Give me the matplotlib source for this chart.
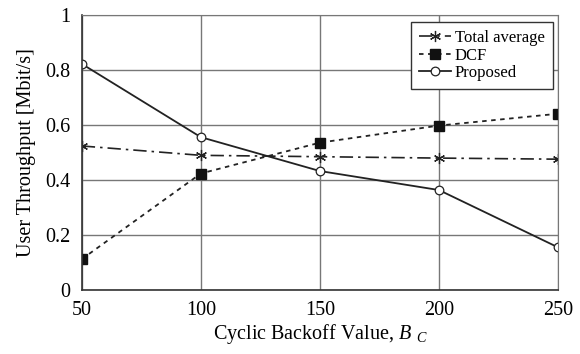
import numpy as np
import matplotlib
matplotlib.use("Agg")
import matplotlib.pyplot as plt

plt.rcParams['font.family'] = ['Liberation Serif', 'DejaVu Serif']
plt.rcParams['mathtext.fontset'] = 'custom'
plt.rcParams['mathtext.it'] = 'Liberation Serif:italic'
plt.rcParams['mathtext.rm'] = 'Liberation Serif'

# data
backoff = [50, 100, 150, 200, 250]
total_average = [0.524, 0.490, 0.485, 0.480, 0.476]
dcf = [0.113, 0.424, 0.536, 0.598, 0.641]
proposed = [0.822, 0.556, 0.433, 0.364, 0.156]

fig, ax = plt.subplots(figsize=(5.8, 3.54), dpi=100)
fig.subplots_adjust(left=0.141, right=0.962, top=0.958, bottom=0.18)

ax.plot(backoff, total_average, color='#222222', lw=1.2, ls=(0, (8, 3, 1.5, 3)),
        marker=(6, 2, 0), ms=8, mew=0.9, label='Total average')
ax.plot(backoff, dcf, color='#222222', lw=1.3, ls=(0, (2.5, 2.5)),
        marker='s', ms=6.5, mfc='#111111', mec='#111111', label='DCF')
ax.plot(backoff, proposed, color='#222222', lw=1.3, ls='-',
        marker='o', ms=6.2, mfc='white', mec='#222222', mew=0.9, label='Proposed')

ax.set_xlim(50, 250)
ax.set_ylim(0, 1)
ax.set_xticks(backoff)
ax.set_yticks(np.arange(0, 1.01, 0.2))
ax.set_yticklabels(['0', '0.2', '0.4', '0.6', '0.8', '1'])
ax.grid(True, color='#777777', lw=1.0)
ax.set_axisbelow(True)
ax.tick_params(length=0, labelsize=14.5, pad=8)
for side in ['top', 'right']:
    ax.spines[side].set_color('#777777')
for side in ['left', 'bottom']:
    ax.spines[side].set_color('#333333')
    ax.spines[side].set_linewidth(1.2)

ax.set_xlabel('Cyclic Backoff Value, $B$ $_C$', fontsize=14.5, labelpad=1)
ax.set_ylabel('User Throughput [Mbit/s]', fontsize=14.5, labelpad=7)

leg = ax.legend(loc='upper right', fontsize=12, fancybox=False, framealpha=1,
                edgecolor='#333333', handlelength=1.9, handletextpad=0.25,
                borderpad=0.5, labelspacing=0.08, borderaxespad=0,
                bbox_to_anchor=(0.9895, 0.9745))
leg.get_frame().set_linewidth(1.0)

fig.savefig('out.png', dpi=100)
